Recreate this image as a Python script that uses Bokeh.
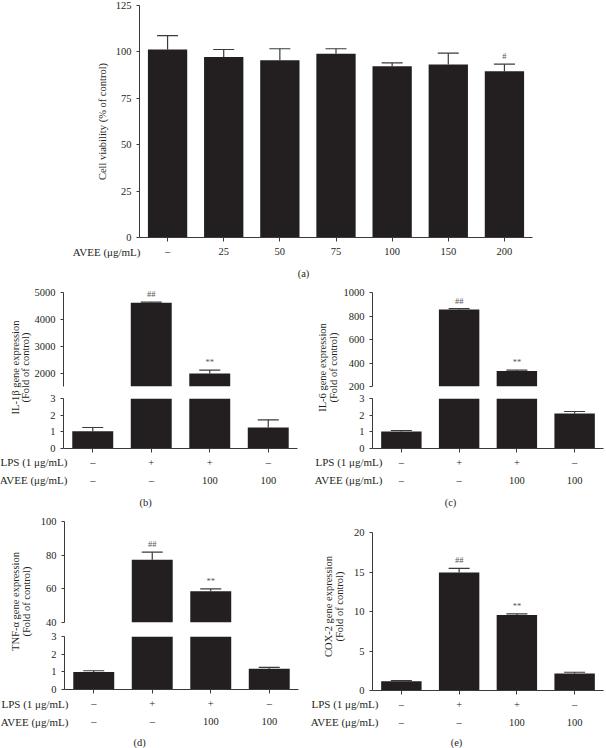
import numpy as np
from bokeh.plotting import figure
from bokeh.models import (Range1d, FactorRange, LinearAxis, CategoricalAxis, FixedTicker,
                          ColumnDataSource, Whisker, TeeHead, LabelSet, GridBox)
from bokeh.core.properties import value
from bokeh.layouts import column, row
from bokeh.embed import file_html
from bokeh.resources import INLINE

FONT = "Liberation Serif"
BAR = "#231f20"
AX = "#3a3a3a"
ERR = "#3a3a3a"
TXT = "#231f20"
MARK = "#555555"
BAR_W = 0.7

# ---------------- data ----------------
# (a) cell viability
avee_doses = ["–", "25", "50", "75", "100", "150", "200"]
viability = [101.3, 97.2, 95.5, 99.0, 92.3, 93.2, 89.6]
viability_err = [7.5, 4.1, 6.2, 2.7, 1.8, 6.1, 3.8]
viability_marks = ["", "", "", "", "", "", "#"]
viability_ticks = [0, 25, 50, 75, 100, 125]

# treatment rows for (b)-(e)
lps_row = ["–", "+", "+", "–"]
avee_row = ["–", "–", "100", "100"]
gene_marks = ["", "##", "**", ""]

il1b = [1.04, 4615, 1985, 1.26]
il1b_err = [0.22, 25, 125, 0.46]
il1b_low_ticks = [0, 1, 2, 3]
il1b_high_ticks = [2000, 3000, 4000, 5000]
il1b_high_bounds = (1500, 5000)

il6 = [1.02, 855, 331, 2.10]
il6_err = [0.06, 7, 8, 0.12]
il6_low_ticks = [0, 1, 2, 3]
il6_high_ticks = [200, 400, 600, 800, 1000]
il6_high_bounds = (200, 1000)

tnfa = [0.99, 77.3, 58.6, 1.17]
tnfa_err = [0.07, 4.5, 1.4, 0.08]
tnfa_low_ticks = [0, 1, 2, 3]
tnfa_high_ticks = [40, 60, 80, 100]
tnfa_high_bounds = (40, 100)

cox2 = [1.18, 14.95, 9.56, 2.15]
cox2_err = [0.08, 0.5, 0.13, 0.16]
cox2_ticks = [0, 5, 10, 15, 20]


# ---------------- helpers ----------------
def make_fig(w, h, left, right, top, bottom, x_range, y_range):
    p = figure(width=w, height=h, x_range=x_range, y_range=y_range,
               x_axis_type=None, y_axis_type=None, toolbar_location=None,
               output_backend="svg", min_border_left=left, min_border_right=right,
               min_border_top=top, min_border_bottom=bottom)
    p.outline_line_color = None
    p.background_fill_color = "white"
    p.border_fill_color = "white"
    return p


def style_axis(ax, tick_out=3, standoff=5):
    ax.axis_line_color = AX
    ax.axis_line_width = 1
    ax.major_tick_line_color = AX
    ax.major_tick_out = tick_out
    ax.major_tick_in = 0
    ax.minor_tick_line_color = None
    ax.major_label_text_font = FONT
    ax.major_label_text_font_size = "10.5px"
    ax.major_label_text_color = TXT
    ax.major_label_standoff = standoff
    return ax


def add_left_axis(p, ticks, bounds=None):
    ax = LinearAxis(ticker=FixedTicker(ticks=ticks))
    if bounds is not None:
        ax.bounds = bounds
    style_axis(ax)
    p.add_layout(ax, "left")


def whiskers(p, xs, vals, errs):
    if not xs:
        return
    src = ColumnDataSource(dict(x=xs, lower=vals, upper=[v + e for v, e in zip(vals, errs)]))
    p.add_layout(Whisker(base="x", lower="lower", upper="upper", source=src,
                         dimension="height",
                         upper_head=TeeHead(size=21, line_color=ERR, line_width=1.2),
                         lower_head=None, line_color=ERR, line_width=1.2))


def marks(p, xs, vals, errs, texts):
    if not xs:
        return
    src = ColumnDataSource(dict(x=xs, y=[v + e for v, e in zip(vals, errs)], t=texts))
    p.add_layout(LabelSet(x="x", y="y", text="t", source=src,
                          text_align="center", text_baseline="bottom", y_offset=3,
                          text_font=FONT, text_font_size="8.5px", text_color=MARK))


def bars(p, xs, vals, errs, bottom, lo, hi, texts=None):
    # bars that reach above this segment's floor
    bi = [i for i, v in enumerate(vals) if v > bottom]
    p.vbar(x=[xs[i] for i in bi], top=[vals[i] for i in bi], bottom=bottom,
           width=BAR_W, fill_color=BAR, line_color=None)
    # error bars / marks only where the bar top lies inside this segment
    idx = [i for i, v in enumerate(vals) if lo <= v <= hi]
    sx = [xs[i] for i in idx]
    sv = [vals[i] for i in idx]
    se = [errs[i] for i in idx]
    whiskers(p, sx, sv, se)
    if texts is not None:
        marks(p, sx, sv, se, [texts[i] for i in idx])


def treatment_axes(p, xs, s1=4, s2=4):
    ax1 = LinearAxis(ticker=FixedTicker(ticks=xs),
                     major_label_overrides={x: t for x, t in zip(xs, lps_row)})
    style_axis(ax1, tick_out=4, standoff=s1)
    ax2 = LinearAxis(ticker=FixedTicker(ticks=xs),
                     major_label_overrides={x: t for x, t in zip(xs, avee_row)})
    style_axis(ax2, tick_out=0, standoff=s2)
    ax2.axis_line_color = None
    ax2.major_tick_line_color = None
    p.add_layout(ax1, "below")
    p.add_layout(ax2, "below")


def broken_panel(w, left, right, up_h, up_bottom, up_px, low_h, low_top, low_bottom,
                 vals, errs, lo_ticks, hi_ticks, hi_bounds, pad=5):
    n = len(vals)
    xs = [i + 0.5 for i in range(n)]
    hi_lo, hi_hi = hi_bounds
    lo_max = lo_ticks[-1]
    up = make_fig(w, up_h, left, right, up_h - up_bottom - pad - up_px, up_bottom,
                  Range1d(0, n), Range1d(hi_lo, hi_hi + (hi_hi - hi_lo) * pad / up_px))
    bars(up, xs, vals, errs, hi_lo, hi_lo, 1e12, gene_marks)
    add_left_axis(up, hi_ticks, hi_bounds)
    low = make_fig(w, low_h, left, right, low_top, low_bottom,
                   Range1d(0, n), Range1d(0, lo_max))
    bars(low, xs, vals, errs, 0, -1e12, lo_max)
    add_left_axis(low, lo_ticks)
    treatment_axes(low, xs)
    return column(up, low)


# ---------------- (a) ----------------
pA = make_fig(606, 287, 139, 74, 5, 50,
              FactorRange(factors=avee_doses, range_padding=0), Range1d(0, 125))
bars(pA, avee_doses, viability, viability_err, 0, -1e12, 1e12, viability_marks)
add_left_axis(pA, viability_ticks)
pA.add_layout(style_axis(CategoricalAxis(), tick_out=4, standoff=4), "below")

# ---------------- (b) (c) ----------------
colB = broken_panel(303, 63, 6, 104, 5, 94, 123, 7, 66,
                    il1b, il1b_err, il1b_low_ticks, il1b_high_ticks, il1b_high_bounds)
colC = broken_panel(303, 69, 3, 104, 5, 94, 123, 7, 66,
                    il6, il6_err, il6_low_ticks, il6_high_ticks, il6_high_bounds)

# ---------------- (d) ----------------
colD = broken_panel(303, 64, 5, 115, 7, 101, 119, 7, 59,
                    tnfa, tnfa_err, tnfa_low_ticks, tnfa_high_ticks, tnfa_high_bounds)

# ---------------- (e) ----------------
xs_e = [i + 0.5 for i in range(len(cox2))]
pE = make_fig(303, 234, 69, 3, 18, 58, Range1d(0, len(cox2)), Range1d(0, 20))
bars(pE, xs_e, cox2, cox2_err, 0, -1e12, 1e12, gene_marks)
add_left_axis(pE, cox2_ticks)
treatment_axes(pE, xs_e)

main = column(pA, row(colB, colC), row(colD, pE))

# ---------------- text overlay (titles, row labels, panel letters) ----------------
W, H = 606, 748
ov = figure(width=W, height=H, x_range=Range1d(0, W), y_range=Range1d(0, H),
            x_axis_type=None, y_axis_type=None, toolbar_location=None,
            output_backend="svg", min_border=0)
ov.background_fill_color = None
ov.border_fill_color = None
ov.outline_line_color = None


def ov_text(items, align="center", angle=0.0, size="11px"):
    ov.text(x=[it[0] for it in items], y=[H - it[1] for it in items],
            text=[it[2] for it in items], angle=angle, text_align=align,
            text_baseline="middle", text_font=value(FONT), text_font_size=size,
            text_color=TXT)


# y-axis titles (rotated)
ov_text([(102, 121, "Cell viability (% of control)"),
         (15, 367, "IL-1β gene expression"), (25, 367, "(Fold of control)"),
         (322, 367, "IL-6 gene expression"), (333, 367, "(Fold of control)"),
         (15, 601, "TNF-α gene expression"), (26, 601, "(Fold of control)"),
         (328, 606, "COX-2 gene expression"), (339, 606, "(Fold of control)")],
        angle=np.pi / 2, size="10.5px")
# treatment row labels
ov_text([(140, 251, "AVEE (μg/mL)"),
         (67, 461.5, "LPS (1 μg/mL)"), (67, 479.5, "AVEE (μg/mL)"),
         (382, 461.5, "LPS (1 μg/mL)"), (382, 479.5, "AVEE (μg/mL)"),
         (68, 703.5, "LPS (1 μg/mL)"), (68, 721.5, "AVEE (μg/mL)"),
         (378, 703.5, "LPS (1 μg/mL)"), (378, 721.5, "AVEE (μg/mL)")],
        align="right")
# panel letters
ov_text([(303, 273, "(a)"), (145, 502, "(b)"), (450, 502, "(c)"),
         (139, 742, "(d)"), (456, 742, "(e)")], size="10.5px")

root = GridBox(children=[(main, 0, 0), (ov, 0, 0)])
open("out.html", "w").write(file_html(root, INLINE))
